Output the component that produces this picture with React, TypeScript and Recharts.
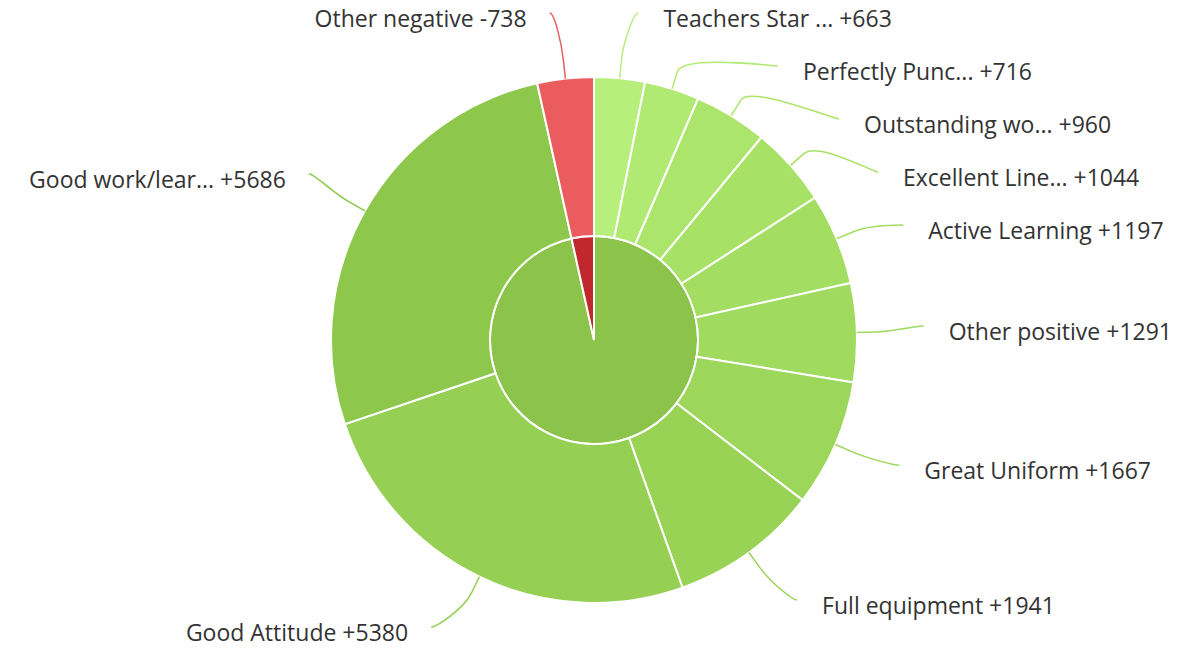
import React from 'react';
import { PieChart, Pie, Cell } from 'recharts';

// outer ring, clockwise from 12 o'clock
const categories = [
  'Teachers Star ...',
  'Perfectly Punc...',
  'Outstanding wo...',
  'Excellent Line...',
  'Active Learning',
  'Other positive',
  'Great Uniform',
  'Full equipment',
  'Good Attitude',
  'Good work/lear...',
  'Other negative',
];
const points = [663, 716, 960, 1044, 1197, 1291, 1667, 1941, 5380, 5686, -738];
const groupOf = ['pos', 'pos', 'pos', 'pos', 'pos', 'pos', 'pos', 'pos', 'pos', 'pos', 'neg'];
const groupKeys = ['pos', 'neg'];

const outerColors = [
  '#b6ef7c', '#b0ea72', '#abe56b', '#a7e166', '#a3dd62',
  '#a0da5e', '#9cd65a', '#98d356', '#95cf53', '#8dc84c', '#ea5c5e',
];
const innerColors = ['#8cc34b', '#c0282e'];

const W = 1196;
const H = 648;
const CX = 594;
const CY = 340;
const R_IN = 104;
const R_OUT = 263;
const LABEL_R = 328;
const X_R = 330;
const GAP = 53;
const TOP = 18;
const BOTTOM = 632;
const BREAK = 18;

const outerData = categories.map((name, i) => ({
  name,
  value: Math.abs(points[i]),
  text: `${name} ${points[i] > 0 ? '+' : ''}${points[i]}`,
}));
const innerData = groupKeys.map((g) => ({
  name: g,
  value: outerData.filter((_, i) => groupOf[i] === g).reduce((s, d) => s + d.value, 0),
}));

// spread labels vertically so they don't collide (same idea as highcharts)
function distribute(targets: number[]): number[] {
  type G = { ts: number[]; start: number };
  const place = (g: G) => {
    const n = g.ts.length;
    let s = g.ts.reduce((a, b) => a + b, 0) / n - ((n - 1) / 2) * GAP;
    s = Math.max(TOP, Math.min(s, BOTTOM - (n - 1) * GAP));
    g.start = s;
  };
  const groups: G[] = [];
  for (const t of targets) {
    const g = { ts: [t], start: 0 };
    place(g);
    groups.push(g);
    while (groups.length > 1) {
      const a = groups[groups.length - 2];
      const b = groups[groups.length - 1];
      if (a.start + a.ts.length * GAP > b.start) {
        const m = { ts: [...a.ts, ...b.ts], start: 0 };
        place(m);
        groups.splice(-2, 2, m);
      } else break;
    }
  }
  return groups.flatMap((g) => g.ts.map((_, k) => g.start + k * GAP));
}

function layoutLabels() {
  const total = outerData.reduce((s, d) => s + d.value, 0);
  let acc = 0;
  const items = outerData.map((d, i) => {
    const mid = ((acc + d.value / 2) / total) * Math.PI * 2;
    acc += d.value;
    return { i, right: Math.sin(mid) >= 0, ny: CY - LABEL_R * Math.cos(mid), y: 0 };
  });
  [true, false].forEach((side) => {
    const list = items.filter((it) => it.right === side).sort((a, b) => a.ny - b.ny);
    const ys = distribute(list.map((it) => it.ny));
    list.forEach((it, k) => (it.y = ys[k]));
  });
  return items;
}

const labelPos = layoutLabels();

const renderLabel = (props: any) => {
  const { cx, cy, midAngle, outerRadius, index } = props;
  const lp = labelPos[index];
  const rad = (-midAngle * Math.PI) / 180;
  const tx = cx + outerRadius * Math.cos(rad);
  const ty = cy + outerRadius * Math.sin(rad);
  const bx = cx + (outerRadius + BREAK) * Math.cos(rad);
  const by = cy + (outerRadius + BREAK) * Math.sin(rad);
  const ey = lp.y - 5;
  const dy = ey - cy;
  const dx = Math.sqrt(Math.max(0, X_R * X_R - dy * dy));
  const ex = lp.right ? cx + dx : cx - dx;
  const c1x = ex + (lp.right ? -5 : 5);
  const d = `M${ex},${ey} C${c1x},${ey} ${2 * bx - tx},${2 * by - ty} ${bx},${by} L${tx},${ty}`;
  const color = outerColors[index];
  return (
    <g key={`lbl-${index}`}>
      <path d={d} fill="none" stroke={color} strokeWidth={1.5} />
      <text
        x={lp.right ? ex + 25 : ex - 23}
        y={lp.y}
        textAnchor={lp.right ? 'start' : 'end'}
        dominantBaseline="central"
        fontFamily="'Open Sans', sans-serif"
        fontSize={23}
        fill="#333"
      >
        {outerData[index].text}
      </text>
    </g>
  );
};

export default function App() {
  return (
    <div style={{ position: 'absolute', left: 0, top: 0, width: W, height: H, background: '#fff' }}>
      <PieChart width={W} height={H} margin={{ top: 0, right: 0, bottom: 0, left: 0 }}>
        <Pie
          data={innerData}
          dataKey="value"
          cx={CX}
          cy={CY}
          outerRadius={R_IN}
          startAngle={90}
          endAngle={-270}
          stroke="#fff"
          strokeWidth={2}
          isAnimationActive={false}
        >
          {innerData.map((d, i) => (
            <Cell key={d.name} fill={innerColors[i]} />
          ))}
        </Pie>
        <Pie
          data={outerData}
          dataKey="value"
          cx={CX}
          cy={CY}
          innerRadius={R_IN}
          outerRadius={R_OUT}
          startAngle={90}
          endAngle={-270}
          stroke="#fff"
          strokeWidth={2}
          label={renderLabel}
          labelLine={false}
          isAnimationActive={false}
        >
          {outerData.map((d, i) => (
            <Cell key={d.name} fill={outerColors[i]} />
          ))}
        </Pie>
      </PieChart>
    </div>
  );
}
